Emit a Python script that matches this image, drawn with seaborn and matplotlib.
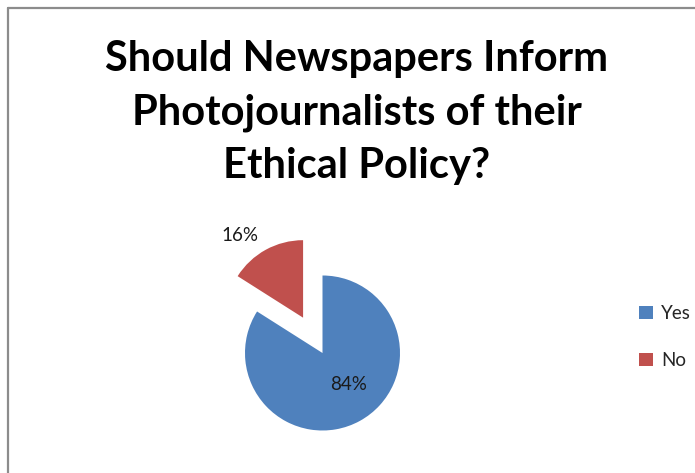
import matplotlib
matplotlib.use("Agg")
import matplotlib.pyplot as plt
import seaborn as sns
import numpy as np
from matplotlib.lines import Line2D

# Survey answers
answers = ["Yes", "No"]
shares = [84, 16]
slice_colors = ["#4F81BD", "#C0504D"]
title_text = "Should Newspapers Inform\nPhotojournalists of their\nEthical Policy?"

sns.set_theme(style="white")
plt.rcParams["font.family"] = ["Lato", "DejaVu Sans"]

W, H = 695, 473
fig = plt.figure(figsize=(W / 100, H / 100), dpi=100)
fig.patch.set_facecolor("white")

# chart-area frame (top and left edges)
fig.add_artist(Line2D([7.5 / W, 1.0], [1 - 8.5 / H, 1 - 8.5 / H],
                      transform=fig.transFigure, color="#8c8c8c", lw=1.6))
fig.add_artist(Line2D([7.5 / W, 7.5 / W], [0.0, 1 - 8.5 / H],
                      transform=fig.transFigure, color="#8c8c8c", lw=1.6))

# title
fig.text(357 / W, 1 - 40 / H, title_text, ha="center", va="top",
         fontsize=30, fontweight="bold", color="black", linespacing=1.49)

# pie axes: 1 data unit == pie radius (77.5 px)
R = 77.5
cx, cy = 322.5, H - 353
half_w, half_h = 160, 120
ax = fig.add_axes([(cx - half_w) / W, (cy - half_h) / H, 2 * half_w / W, 2 * half_h / H])

wedges, texts, autotexts = ax.pie(
    shares, colors=slice_colors, startangle=90, counterclock=False,
    explode=[0, 0.52], autopct="%d%%", pctdistance=0.55,
    wedgeprops=dict(linewidth=0), textprops=dict(fontsize=13.5, color="#1a1a1a"),
    frame=True,
)
ax.set_xlim(-half_w / R, half_w / R)
ax.set_ylim(-half_h / R, half_h / R)
ax.set_axis_off()

# percentage label placement
autotexts[0].set_position((26.5 / R, -31 / R))
autotexts[1].set_position((-82.5 / R, 118 / R))

leg = fig.legend(wedges, answers, loc="center left",
                 bbox_to_anchor=(622 / W, 1 - 337 / H), frameon=False,
                 handlelength=0.75, handleheight=0.75, handletextpad=0.45,
                 labelspacing=1.6, fontsize=13.5)

fig.savefig("out.png", dpi=100)
